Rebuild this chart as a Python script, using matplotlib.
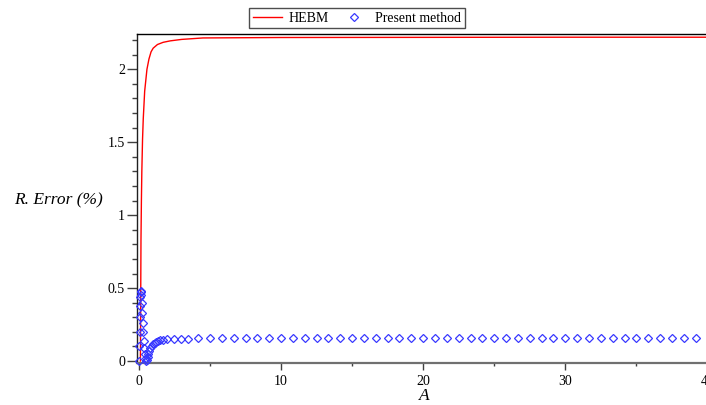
import matplotlib
matplotlib.use("Agg")
import matplotlib.pyplot as plt
from matplotlib.ticker import MultipleLocator, FixedLocator

# HEBM relative error curve
hebm_A = [0.10, 0.14, 0.17, 0.20, 0.25, 0.30, 0.40, 0.56, 0.70, 0.85, 1.00,
          1.30, 1.70, 2.20, 3.00, 4.50, 10.0, 20.0, 30.0, 40.0]
hebm_err = [0.00, 0.83, 1.10, 1.30, 1.52, 1.66, 1.85, 2.00, 2.07, 2.12, 2.145,
            2.17, 2.185, 2.195, 2.205, 2.215, 2.218, 2.219, 2.22, 2.22]

# Present method relative error samples
present_A = [0.00, 0.02, 0.04, 0.06, 0.08, 0.10, 0.12, 0.14,
             0.16, 0.19, 0.22, 0.26, 0.30, 0.34, 0.38, 0.42, 0.46,
             0.50, 0.55, 0.60, 0.65, 0.70, 0.80, 0.90, 1.00, 1.10, 1.20,
             1.35, 1.50, 1.70, 1.96, 2.45, 2.94, 3.43,
             4.17, 5.00, 5.83, 6.67, 7.50, 8.33, 9.17, 10.00, 10.83, 11.67,
             12.50, 13.33, 14.17, 15.00, 15.83, 16.67, 17.50, 18.33, 19.17,
             20.00, 20.83, 21.67, 22.50, 23.33, 24.17, 25.00, 25.83, 26.67,
             27.50, 28.33, 29.17, 30.00, 30.83, 31.67, 32.50, 33.33, 34.17,
             35.00, 35.83, 36.67, 37.50, 38.33, 39.17]
present_err = [0.00, 0.10, 0.20, 0.30, 0.38, 0.44, 0.48, 0.47,
               0.45, 0.40, 0.33, 0.26, 0.20, 0.14, 0.09, 0.05, 0.02,
               0.00, 0.01, 0.03, 0.05, 0.07, 0.09, 0.105, 0.115, 0.125, 0.132,
               0.138, 0.142, 0.146, 0.150, 0.152, 0.153, 0.154,
               0.155, 0.155, 0.155, 0.155, 0.155, 0.155, 0.155, 0.155, 0.155, 0.155,
               0.155, 0.155, 0.155, 0.155, 0.155, 0.155, 0.155, 0.155, 0.155,
               0.155, 0.155, 0.155, 0.155, 0.155, 0.155, 0.155, 0.155, 0.155,
               0.155, 0.155, 0.155, 0.155, 0.155, 0.155, 0.155, 0.155, 0.155,
               0.155, 0.155, 0.155, 0.155, 0.155, 0.155]

x_ticks = [0, 10, 20, 30, 40]
x_tick_labels = ["0", "10", "20", "30", "40"]
y_ticks = [0, 0.5, 1, 1.5, 2]
y_tick_labels = ["0", "0.5", "1", "1.5", "2"]

plt.rcParams["font.family"] = ["Liberation Serif", "DejaVu Serif"]

fig = plt.figure(figsize=(7.06, 4.05), dpi=100)
ax = fig.add_axes([137 / 706, 1 - 362.5 / 405, 1 - 137 / 706 + 0.01, (362.5 - 34.3) / 405])

ax.plot(hebm_A, hebm_err, color="#ff0000", lw=1.0, label="HEBM", zorder=3)
ax.plot(present_A, present_err, linestyle="none", marker="D", markersize=4.2,
        markerfacecolor="none", markeredgecolor="#3838ff", markeredgewidth=0.9,
        label="Present method", zorder=4, clip_on=False)

ax.set_xlim(-0.14, 40.4)
ax.set_ylim(-0.01, 2.24)

ax.xaxis.set_major_locator(FixedLocator(x_ticks))
ax.set_xticklabels(x_tick_labels)
ax.xaxis.set_minor_locator(MultipleLocator(5))
ax.yaxis.set_major_locator(FixedLocator(y_ticks))
ax.set_yticklabels(y_tick_labels)
ax.yaxis.set_minor_locator(MultipleLocator(0.1))

ax.tick_params(axis="both", which="both", width=1, color="#404040",
               labelsize=10, direction="out")
ax.tick_params(axis="y", which="major", length=7.2, pad=1.5)
ax.tick_params(axis="y", which="minor", length=3.3)
ax.tick_params(axis="x", which="major", length=5, pad=4)
ax.tick_params(axis="x", which="minor", length=2.5)

ax.spines["right"].set_visible(False)
ax.spines["top"].set_color("black")
ax.spines["top"].set_linewidth(1.0)
ax.spines["left"].set_color("#202020")
ax.spines["left"].set_linewidth(1.0)
ax.spines["bottom"].set_color("#707070")
ax.spines["bottom"].set_linewidth(1.6)

fig.text(58 / 706, 1 - 200 / 405, "R. Error (%)", fontsize=12.5, style="italic",
         ha="center", va="center")
fig.text(424 / 706, 1 - 396 / 405, "A", fontsize=12.5, style="italic",
         ha="center", va="center")

leg = fig.legend(loc="center", bbox_to_anchor=(357 / 706, 1 - 18 / 405),
                 ncol=2, fontsize=10, frameon=True, fancybox=False,
                 handlelength=2.1, handletextpad=0.45, columnspacing=0.8,
                 borderpad=0.25, borderaxespad=0)
leg.get_frame().set_edgecolor("#202020")
leg.get_frame().set_linewidth(1.0)

fig.savefig("out.png", dpi=100)
